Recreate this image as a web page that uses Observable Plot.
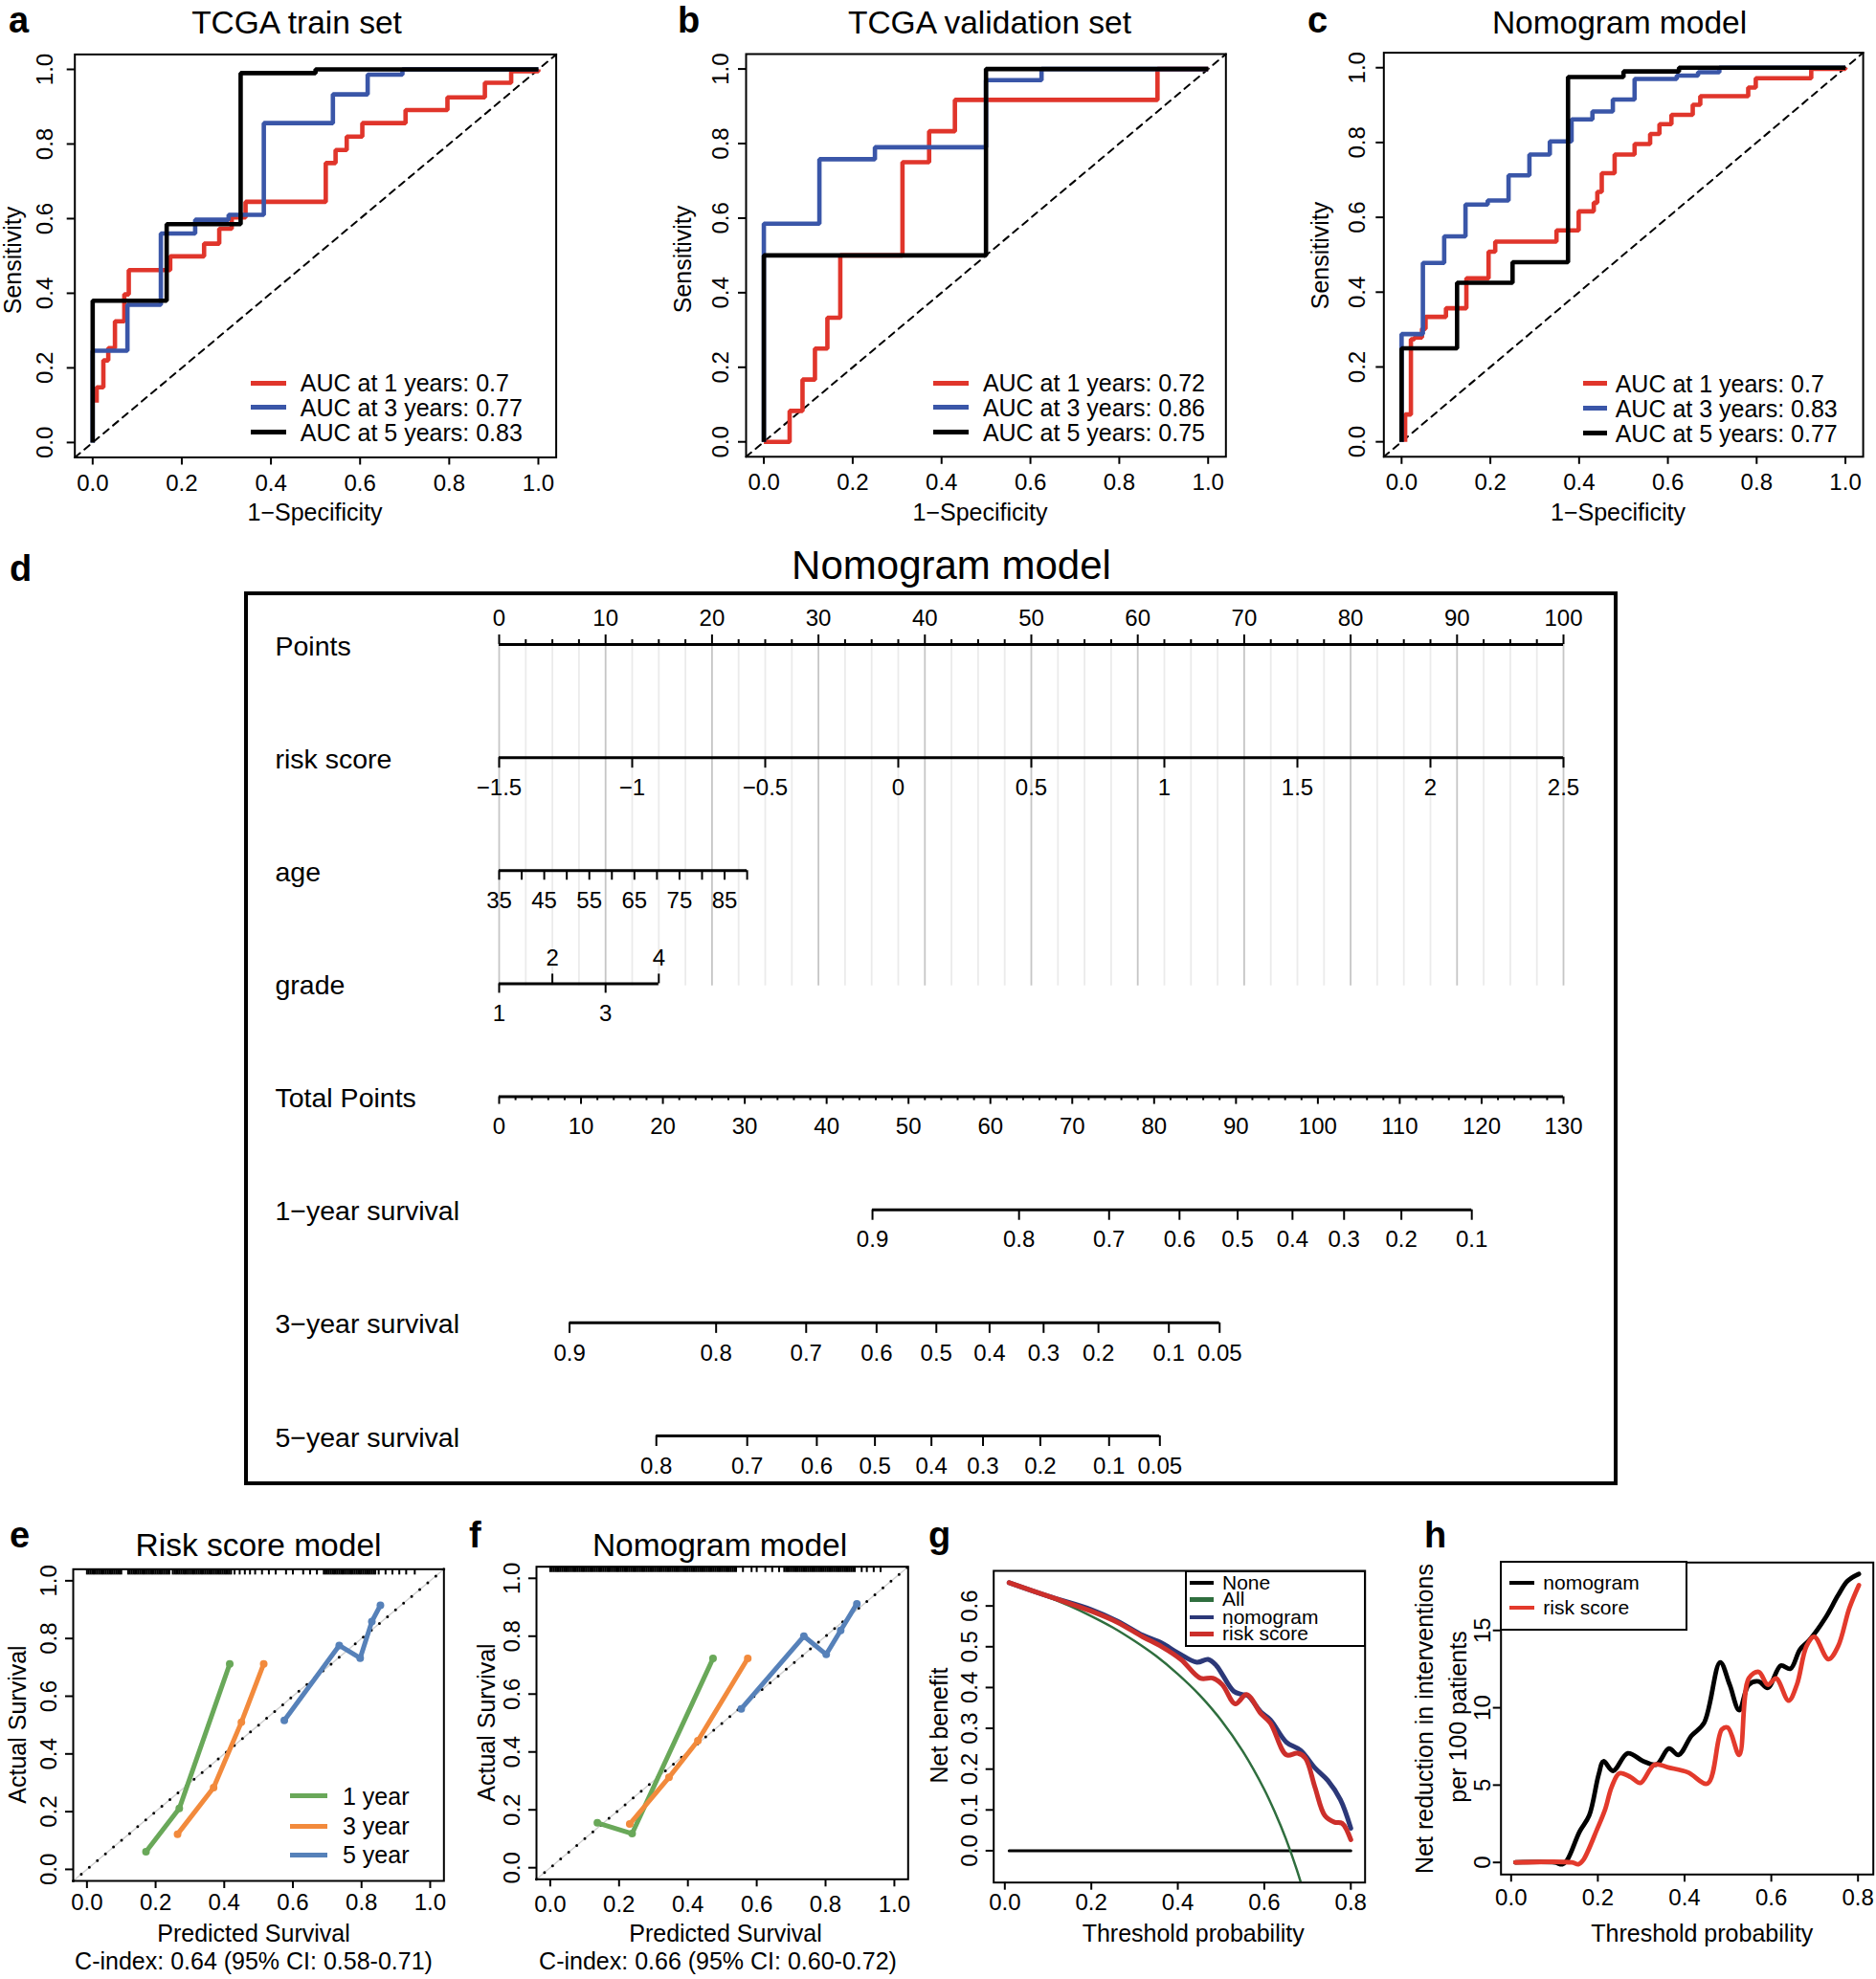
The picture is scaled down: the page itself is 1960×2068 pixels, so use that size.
<!DOCTYPE html>
<html><head><meta charset="utf-8">
<script src="https://cdn.jsdelivr.net/npm/d3@7"></script>
<script src="https://cdn.jsdelivr.net/npm/@observablehq/plot@0.6"></script>
<style>
body{margin:0;background:#fff;}
#root{position:relative;width:1960px;height:2068px;overflow:hidden;font-family:"Liberation Sans",Arial,Helvetica,sans-serif;color:#000;background:#fff;}
.abs{position:absolute;white-space:nowrap;line-height:1;}
.panel{position:absolute;}
</style></head><body><div id="root"></div>
<script>
// ================= DATA =================
const rocTicks = [0, 0.2, 0.4, 0.6, 0.8, 1];
// a: TCGA train set
const aFpr1 = [0.009,0.009,0.024,0.035,0.05,0.071,0.081,0.174,0.25,0.284,0.312,0.343,0.523,0.545,0.57,0.605,0.702,0.796,0.88,0.939,1];
const aTpr1 = [0.107,0.148,0.22,0.253,0.325,0.397,0.462,0.499,0.533,0.573,0.603,0.645,0.749,0.784,0.82,0.856,0.891,0.925,0.964,0.995,1];
const aFpr3 = [0,0,0.078,0.153,0.23,0.305,0.384,0.539,0.617,0.695,1];
const aTpr3 = [0,0.246,0.369,0.56,0.597,0.61,0.856,0.933,0.986,1,1];
const aFpr5 = [0,0,0.166,0.332,0.5,1];
const aTpr5 = [0,0.38,0.585,0.99,1,1];
const aAuc = ["AUC at 1 years: 0.7","AUC at 3 years: 0.77","AUC at 5 years: 0.83"];
// b: TCGA validation set
const bFpr1 = [0,0.058,0.087,0.115,0.143,0.172,0.312,0.372,0.43,0.886,1];
const bTpr1 = [0,0.083,0.167,0.25,0.333,0.5,0.75,0.833,0.917,1,1];
const bFpr3 = [0,0,0.125,0.25,0.5,0.625,1];
const bTpr3 = [0,0.585,0.758,0.79,0.97,1,1];
const bFpr5 = [0,0,0.5,1];
const bTpr5 = [0,0.5,1,1];
const bAuc = ["AUC at 1 years: 0.72","AUC at 3 years: 0.86","AUC at 5 years: 0.75"];
// c: Nomogram model ROC
const cFpr1 = [0.008,0.008,0.021,0.029,0.046,0.054,0.1,0.146,0.196,0.211,0.349,0.399,0.433,0.441,0.451,0.48,0.525,0.56,0.581,0.608,0.656,0.673,0.781,0.798,0.923,1];
const cTpr1 = [0,0.073,0.274,0.279,0.302,0.334,0.357,0.437,0.508,0.535,0.565,0.616,0.639,0.668,0.718,0.768,0.796,0.823,0.849,0.874,0.901,0.924,0.947,0.972,0.997,1];
const cFpr3 = [0,0,0.048,0.096,0.144,0.194,0.241,0.288,0.334,0.383,0.43,0.476,0.525,0.62,0.668,0.716,1];
const cTpr3 = [0,0.288,0.478,0.549,0.634,0.645,0.712,0.768,0.803,0.862,0.883,0.915,0.97,0.979,0.988,1,1];
const cFpr5 = [0,0,0.125,0.25,0.375,0.5,0.625,1];
const cTpr5 = [0,0.25,0.425,0.48,0.975,0.99,1,1];
const cAuc = ["AUC at 1 years: 0.7","AUC at 3 years: 0.83","AUC at 5 years: 0.77"];

// d: nomogram
const rowNames = ["Points","risk score","age","grade","Total Points","1\u2212year survival","3\u2212year survival","5\u2212year survival"];
const pointsTicks = [0,10,20,30,40,50,60,70,80,90,100];
const riskTicks = [-1.5,-1,-0.5,0,0.5,1,1.5,2,2.5];
const riskLabels = ["\u22121.5","\u22121","\u22120.5","0","0.5","1","1.5","2","2.5"];
const riskRange = [-1.5, 2.5];
const riskPoints = [0, 100];
const ageTicks = [35,40,45,50,55,60,65,70,75,80,85,90];
const ageLabels = [35,45,55,65,75,85];
const ageRange = [35, 90];
const agePoints = [0, 23.3];
const gradeValues = [1,2,3,4];
const gradePoints = [0,5,10,15];
const totalTicks = [0,10,20,30,40,50,60,70,80,90,100,110,120,130];
const totalMax = 130;
const surv1Labels = ["0.9","0.8","0.7","0.6","0.5","0.4","0.3","0.2","0.1"];
const surv1Total = [45.6,63.5,74.5,83.1,90.2,96.9,103.2,110.2,118.8];
const surv3Labels = ["0.9","0.8","0.7","0.6","0.5","0.4","0.3","0.2","0.1","0.05"];
const surv3Total = [8.6,26.5,37.5,46.1,53.4,59.9,66.5,73.2,81.8,88.0];
const surv5Labels = ["0.8","0.7","0.6","0.5","0.4","0.3","0.2","0.1","0.05"];
const surv5Total = [19.2,30.3,38.8,45.9,52.8,59.1,66.1,74.5,80.7];

// e/f: calibration
const calTicks = [0,0.2,0.4,0.6,0.8,1];
const calLabels = ["1 year","3 year","5 year"];
const eX1 = [0.172,0.269,0.416], eY1 = [0.061,0.211,0.712];
const eX3 = [0.264,0.369,0.45,0.515], eY3 = [0.122,0.283,0.51,0.712];
const eX5 = [0.575,0.735,0.796,0.83,0.855], eY5 = [0.516,0.776,0.732,0.859,0.915];
const fX1 = [0.137,0.238,0.473], fY1 = [0.155,0.118,0.723];
const fX3 = [0.231,0.345,0.429,0.574], fY3 = [0.151,0.312,0.439,0.723];
const fX5 = [0.555,0.737,0.802,0.844,0.891], fY5 = [0.549,0.8,0.737,0.82,0.912];
const rugE = [0,0.005,0.01,0.015,0.02,0.025,0.03,0.035,0.04,0.045,0.05,0.055,0.06,0.065,0.07,0.075,0.08,0.085,0.09,0.095,0.1,0.12,0.125,0.13,0.135,0.14,0.145,0.15,0.155,0.16,0.165,0.17,0.175,0.18,0.185,0.19,0.195,0.2,0.205,0.21,0.215,0.22,0.225,0.23,0.235,0.24,0.25,0.255,0.26,0.265,0.27,0.275,0.28,0.285,0.29,0.295,0.3,0.305,0.31,0.315,0.32,0.325,0.33,0.335,0.34,0.345,0.35,0.355,0.36,0.365,0.37,0.375,0.38,0.385,0.39,0.395,0.4,0.405,0.41,0.415,0.42,0.43,0.445,0.46,0.475,0.49,0.51,0.53,0.55,0.58,0.6,0.63,0.65,0.67,0.69,0.695,0.7,0.705,0.71,0.715,0.72,0.725,0.73,0.735,0.74,0.745,0.75,0.755,0.76,0.765,0.77,0.775,0.78,0.785,0.79,0.795,0.8,0.805,0.81,0.815,0.82,0.825,0.83,0.835,0.84,0.85,0.87,0.89,0.91,0.93,0.955];
const rugF = [0,0.005,0.01,0.015,0.02,0.025,0.03,0.035,0.04,0.045,0.05,0.055,0.06,0.065,0.07,0.075,0.08,0.085,0.09,0.095,0.1,0.105,0.11,0.115,0.12,0.125,0.13,0.135,0.14,0.145,0.15,0.155,0.16,0.165,0.17,0.175,0.18,0.185,0.19,0.195,0.2,0.205,0.21,0.215,0.22,0.225,0.23,0.235,0.24,0.245,0.25,0.255,0.26,0.265,0.27,0.275,0.28,0.285,0.29,0.295,0.3,0.305,0.31,0.315,0.32,0.325,0.33,0.335,0.34,0.345,0.35,0.355,0.36,0.365,0.37,0.375,0.38,0.385,0.39,0.395,0.4,0.405,0.41,0.415,0.42,0.425,0.43,0.435,0.44,0.445,0.45,0.455,0.46,0.465,0.47,0.475,0.48,0.485,0.49,0.495,0.5,0.505,0.51,0.515,0.52,0.525,0.53,0.535,0.54,0.56,0.585,0.6,0.625,0.645,0.665,0.68,0.685,0.69,0.695,0.7,0.705,0.71,0.715,0.72,0.725,0.73,0.735,0.74,0.745,0.75,0.755,0.76,0.765,0.77,0.775,0.78,0.785,0.79,0.795,0.8,0.805,0.81,0.815,0.82,0.825,0.83,0.835,0.84,0.845,0.85,0.855,0.86,0.865,0.87,0.875,0.88,0.885,0.905,0.92,0.94,0.96];

// g: decision curve
const gTicksX = [0,0.2,0.4,0.6,0.8];
const gTicksY = [0,0.1,0.2,0.3,0.4,0.5,0.6];
const gLabels = ["None","All","nomogram","risk score"];
const gNoneX = [0.01,0.8], gNoneY = [0,0];
const gAllX = [0.01,0.05,0.1,0.15,0.2,0.25,0.3,0.35,0.4,0.45,0.5,0.55,0.6,0.625,0.65,0.675,0.7];
const gAllY = [0.657,0.642,0.622,0.6,0.575,0.547,0.514,0.477,0.433,0.382,0.32,0.244,0.15,0.093,0.029,-0.046,-0.133];
const gNomX = [0.01,0.1,0.2,0.26,0.319,0.363,0.4,0.444,0.47,0.489,0.529,0.548,0.562,0.592,0.614,0.651,0.684,0.717,0.747,0.776,0.8];
const gNomY = [0.657,0.624,0.591,0.563,0.528,0.509,0.485,0.462,0.469,0.454,0.391,0.383,0.38,0.34,0.321,0.266,0.246,0.203,0.172,0.125,0.055];
const gRiskX = [0.01,0.1,0.2,0.26,0.319,0.363,0.407,0.452,0.481,0.503,0.533,0.559,0.592,0.614,0.651,0.677,0.695,0.717,0.74,0.762,0.78,0.8];
const gRiskY = [0.657,0.624,0.587,0.56,0.524,0.5,0.469,0.423,0.423,0.407,0.36,0.383,0.336,0.313,0.235,0.239,0.227,0.156,0.086,0.07,0.067,0.027];

// h: net reduction in interventions
const hTicksX = [0,0.2,0.4,0.6,0.8];
const hTicksY = [0,5,10,15];
const hLabels = ["nomogram","risk score"];
const hNomX = [0.01,0.1,0.118,0.129,0.158,0.18,0.202,0.213,0.235,0.269,0.305,0.335,0.364,0.386,0.416,0.445,0.482,0.504,0.526,0.548,0.571,0.592,0.622,0.644,0.666,0.688,0.725,0.754,0.776,0.802];
const hNomY = [0,0,-0.12,0.14,2.0,3.03,5.7,6.54,5.92,7.06,6.54,6.33,7.37,6.95,8.19,9.02,12.94,11.49,9.84,11.49,11.7,11.29,12.73,12.52,13.76,14.38,15.82,17.27,18.2,18.65];
const hRiskX = [0.01,0.14,0.155,0.166,0.199,0.217,0.232,0.25,0.276,0.298,0.331,0.364,0.408,0.453,0.486,0.5,0.526,0.548,0.571,0.592,0.611,0.64,0.659,0.681,0.699,0.732,0.754,0.78,0.802];
const hRiskY = [0,0,-0.12,0.14,2.2,3.45,4.89,5.76,5.51,5.14,6.33,6.13,5.82,5.1,8.6,8.71,6.95,11.9,12.32,11.49,11.9,10.46,11.49,13.97,14.59,13.14,13.97,16.44,17.93];

// ================= STYLE =================
const FONT = '"Liberation Sans", Arial, Helvetica, sans-serif';
const RED = "#E0352B", BLUE = "#3A56A8", BLACK = "#000";
const CGREEN = "#69A859", CORANGE = "#F28A3C", CBLUE = "#5681B9";
const GGREEN = "#2F6E3E", GNAVY = "#2C3878", GRED = "#CC2F2B", HRED = "#E33A2C";
const fmt1 = d3.format(".1f");
const root = document.getElementById("root");
const zipXY = (xs, ys) => xs.map((x, i) => ({x, y: ys[i]}));

function mount(svg, left, top) {
  const w = document.createElement("div");
  w.className = "panel"; w.style.left = left + "px"; w.style.top = top + "px";
  w.appendChild(svg); root.appendChild(w);
}
function hText(str, x, base, size, anchor = "middle", weight = 400) {
  const d = document.createElement("div");
  d.className = "abs"; d.textContent = str;
  d.style.fontSize = size + "px"; d.style.fontWeight = weight;
  d.style.left = x + "px"; d.style.top = (base - 0.8465 * size) + "px";
  d.style.transform = anchor === "middle" ? "translateX(-50%)" : "none";
  root.appendChild(d);
}
function vText(str, cx, cy, size) {
  const d = document.createElement("div");
  d.className = "abs"; d.textContent = str; d.style.fontSize = size + "px";
  d.style.left = cx + "px"; d.style.top = cy + "px";
  d.style.transform = "translate(-50%,-50%) rotate(-90deg)";
  root.appendChild(d);
}
function legend(labels, colors, x0, x1, xt, ys, size, lw) {
  const LH = 0.8;
  labels.forEach((lab, i) => {
    const l = document.createElement("div");
    l.className = "abs";
    Object.assign(l.style, {left: x0 + "px", top: (ys[i] - lw / 2) + "px", width: (x1 - x0) + "px", height: lw + "px", background: colors[i]});
    root.appendChild(l);
    const t = document.createElement("div");
    t.className = "abs"; t.textContent = lab; t.style.fontSize = size + "px";
    t.style.lineHeight = LH;
    t.style.left = xt + "px"; t.style.top = (ys[i] - LH * size / 2) + "px";
    root.appendChild(t);
  });
}
function box(x0, y0, x1, y1, bw, bg) {
  const b = document.createElement("div");
  b.className = "abs";
  Object.assign(b.style, {left: x0 + "px", top: y0 + "px", width: (x1 - x0) + "px", height: (y1 - y0) + "px", border: bw + "px solid #000", boxSizing: "border-box", background: bg || "transparent"});
  root.appendChild(b);
}

// ================= ROC PANELS =================
const rocDomain = [-0.04, 1.04];
function rocPlot({w, h, ml, mr, mt, mb, series, padX, padY}) {
  return Plot.plot({
    width: w, height: h, marginLeft: ml, marginRight: mr, marginTop: mt, marginBottom: mb,
    x: {domain: rocDomain}, y: {domain: rocDomain},
    style: {fontFamily: FONT, fontSize: "24px", background: "transparent", color: "black"},
    marks: [
      Plot.line(rocDomain.map(v => ({x: v, y: v})), {x: "x", y: "y", strokeDasharray: "7,6", strokeWidth: 2}),
      ...series.map(s => Plot.line(zipXY(s.fpr, s.tpr), {x: "x", y: "y", curve: "step-after", stroke: s.color, strokeWidth: 4.6, strokeLinejoin: "miter", strokeLinecap: "butt"})),
      Plot.frame({strokeWidth: 2}),
      Plot.axisX({ticks: rocTicks, tickSize: 8, tickPadding: padX, tickFormat: fmt1, label: null, strokeWidth: 2}),
      Plot.axisY({ticks: rocTicks, tickSize: 8, tickPadding: padY, tickRotate: -90, tickFormat: fmt1, label: null, strokeWidth: 2})
    ]
  });
}
mount(rocPlot({w: 600, h: 560, ml: 77.7, mr: 19.4, mt: 56.4, mb: 82.5, padX: 9.5, padY: 15,
  series: [{fpr: aFpr1, tpr: aTpr1, color: RED}, {fpr: aFpr3, tpr: aTpr3, color: BLUE}, {fpr: aFpr5, tpr: aTpr5, color: BLACK}]}), 0, 0);
mount(rocPlot({w: 620, h: 560, ml: 89, mr: 29.7, mt: 56, mb: 83.2, padX: 10, padY: 10.5,
  series: [{fpr: bFpr1, tpr: bTpr1, color: RED}, {fpr: bFpr3, tpr: bTpr3, color: BLUE}, {fpr: bFpr5, tpr: bTpr5, color: BLACK}]}), 690, 0);
mount(rocPlot({w: 610, h: 560, ml: 95.3, mr: 13.9, mt: 54.6, mb: 83.2, padX: 10, padY: 12,
  series: [{fpr: cFpr1, tpr: cTpr1, color: RED}, {fpr: cFpr3, tpr: cTpr3, color: BLUE}, {fpr: cFpr5, tpr: cTpr5, color: BLACK}]}), 1350, 0);

hText("a", 9, 34, 38, "start", 700);
hText("b", 708, 34, 38, "start", 700);
hText("c", 1366, 34, 38, "start", 700);
hText("TCGA train set", 310, 35.7, 33.5);
hText("TCGA validation set", 1034, 35.7, 33.5);
hText("Nomogram model", 1692, 35.7, 33.5);
vText("Sensitivity", 13, 272, 25);
vText("Sensitivity", 713, 271, 25);
vText("Sensitivity", 1378.6, 267, 25);
hText("1\u2212Specificity", 329, 544.6, 25);
hText("1\u2212Specificity", 1024, 544.6, 25);
hText("1\u2212Specificity", 1690.5, 544.6, 25);
legend(aAuc, [RED, BLUE, BLACK], 262, 298.5, 313.8, [400, 425.7, 451.8], 25, 5);
legend(bAuc, [RED, BLUE, BLACK], 974.7, 1012.3, 1026.9, [400, 425.7, 451.8], 25, 5);
legend(cAuc, [RED, BLUE, BLACK], 1653.5, 1678.8, 1687.7, [400.7, 426.8, 452.9], 25, 5);

// ================= NOMOGRAM =================
(function () {
  const W = 1960, H = 1000, mt = 113, mb = 60, ml = 521, mr = 327;
  const rowPx = (H - mt - mb) / (rowNames.length - 1);
  const riskToPts = d3.scaleLinear(riskRange, riskPoints);
  const ageToPts = d3.scaleLinear(ageRange, agePoints);
  const totToPts = d3.scaleLinear([0, totalMax], [0, 100]);
  const ticks = [], above = [], below = [], lines = [];
  const addTick = (row, x, len, dir) => ticks.push({x, row, y2: row + dir * len / rowPx});
  // row 0: Points
  lines.push({row: 0, x1: 0, x2: 100});
  const pointsMinor = d3.range(0, 100.01, 2.5).filter(v => v % 10 !== 0);
  pointsTicks.forEach(v => { addTick(0, v, 10, -1); above.push({row: 0, x: v, label: String(v)}); });
  pointsMinor.forEach(v => addTick(0, v, 5, -1));
  // row 1: risk score
  lines.push({row: 1, x1: riskToPts(riskRange[0]), x2: riskToPts(riskRange[1])});
  riskTicks.forEach((v, i) => { addTick(1, riskToPts(v), 11, 1); below.push({row: 1, x: riskToPts(v), label: riskLabels[i]}); });
  // row 2: age
  lines.push({row: 2, x1: ageToPts(ageRange[0]), x2: ageToPts(ageRange[1])});
  ageTicks.forEach(v => addTick(2, ageToPts(v), 10, 1));
  ageLabels.forEach(v => below.push({row: 2, x: ageToPts(v), label: String(v)}));
  // row 3: grade
  lines.push({row: 3, x1: gradePoints[0], x2: gradePoints[gradePoints.length - 1]});
  gradeValues.forEach((g, i) => {
    const up = g % 2 === 0;
    addTick(3, gradePoints[i], 10, up ? -1 : 1);
    (up ? above : below).push({row: 3, x: gradePoints[i], label: String(g)});
  });
  // row 4: total points
  lines.push({row: 4, x1: 0, x2: 100});
  totalTicks.forEach(v => { addTick(4, totToPts(v), 8, 1); below.push({row: 4, x: totToPts(v), label: String(v)}); });
  d3.range(0, totalMax + 0.01, 2).filter(v => v % 10 !== 0).forEach(v => addTick(4, totToPts(v), 4, 1));
  // survival rows
  [[surv1Labels, surv1Total], [surv3Labels, surv3Total], [surv5Labels, surv5Total]].forEach(([labs, tots], k) => {
    const row = 5 + k;
    lines.push({row, x1: totToPts(d3.min(tots)), x2: totToPts(d3.max(tots))});
    tots.forEach((t, i) => { addTick(row, totToPts(t), 11, 1); below.push({row, x: totToPts(t), label: labs[i]}); });
  });
  const gridMinor = pointsMinor;
  const svg = Plot.plot({
    width: W, height: H, marginTop: mt, marginBottom: mb, marginLeft: ml, marginRight: mr,
    x: {domain: [0, 100], axis: null}, y: {domain: [0, rowNames.length - 1], reverse: true, axis: null},
    style: {fontFamily: FONT, fontSize: "24px", background: "transparent", color: "black"},
    marks: [
      Plot.ruleX(gridMinor, {x: d => d, y1: 0, y2: 3.02, stroke: "#ebebeb", strokeWidth: 1.8}),
      Plot.ruleX(pointsTicks, {x: d => d, y1: 0, y2: 3.02, stroke: "#c6c6c6", strokeWidth: 1.8}),
      Plot.ruleY(lines, {y: "row", x1: "x1", x2: "x2", strokeWidth: 3}),
      Plot.ruleX(ticks, {x: "x", y1: "row", y2: "y2", strokeWidth: 2}),
      Plot.text(above, {x: "x", y: "row", text: "label", dy: -27, fontSize: 24}),
      Plot.text(below, {x: "x", y: "row", text: "label", dy: 31.5, fontSize: 24}),
      Plot.text(rowNames, {y: (d, i) => i, text: d => d, frameAnchor: "left", dx: -234, dy: 2, textAnchor: "start", fontSize: 28.5})
    ]
  });
  mount(svg, 0, 560);
})();
box(255, 618, 1690, 1552, 4);
hText("d", 10, 607, 38, "start", 700);
hText("Nomogram model", 994, 606, 42);

// ================= CALIBRATION =================
const calDomain = [-0.04, 1.04];
function calPlot({w, h, ml, mr, mt, mb, series, rug, padX, padY}) {
  const diag = calDomain.map(v => ({x: v, y: v}));
  return Plot.plot({
    width: w, height: h, marginLeft: ml, marginRight: mr, marginTop: mt, marginBottom: mb,
    x: {domain: calDomain}, y: {domain: calDomain},
    style: {fontFamily: FONT, fontSize: "24px", background: "transparent", color: "black"},
    marks: [
      Plot.line(diag, {x: "x", y: "y", stroke: "#d2d2d2", strokeWidth: 1.5}),
      Plot.line(diag, {x: "x", y: "y", stroke: "black", strokeWidth: 3, strokeDasharray: "0,11", strokeLinecap: "round"}),
      Plot.ruleX(rug, {x: d => d, y1: calDomain[1], y2: calDomain[1] - 0.02, strokeWidth: 2}),
      ...series.flatMap(s => [
        Plot.line(zipXY(s.x, s.y), {x: "x", y: "y", stroke: s.color, strokeWidth: 5}),
        Plot.dot(zipXY(s.x, s.y), {x: "x", y: "y", fill: s.color, r: 4})
      ]),
      Plot.frame({strokeWidth: 2}),
      Plot.axisX({ticks: calTicks, tickSize: 8, tickPadding: padX, tickFormat: fmt1, label: null, strokeWidth: 2}),
      Plot.axisY({ticks: calTicks, tickSize: 8, tickPadding: padY, tickRotate: -90, tickFormat: fmt1, label: null, strokeWidth: 2})
    ]
  });
}
mount(calPlot({w: 480, h: 488, ml: 76, mr: 16.7, mt: 59.3, mb: 103, padX: 5.7, padY: 9.4, rug: rugE,
  series: [{x: eX1, y: eY1, color: CGREEN}, {x: eX3, y: eY3, color: CORANGE}, {x: eX5, y: eY5, color: CBLUE}]}), 0, 1580);
mount(calPlot({w: 480, h: 488, ml: 80, mr: 11.7, mt: 56.7, mb: 104.7, padX: 9, padY: 9.4, rug: rugF,
  series: [{x: fX1, y: fY1, color: CGREEN}, {x: fX3, y: fY3, color: CORANGE}, {x: fX5, y: fY5, color: CBLUE}]}), 480, 1580);
hText("e", 10, 1617, 38, "start", 700);
hText("f", 490, 1617, 38, "start", 700);
hText("Risk score model", 270, 1626, 33.5);
hText("Nomogram model", 752, 1626, 33.5);
vText("Actual Survival", 17.5, 1802, 25);
vText("Actual Survival", 507.5, 1800, 25);
hText("Predicted Survival", 265, 2029, 25);
hText("Predicted Survival", 758, 2029, 25);
hText("C-index: 0.64 (95% CI: 0.58-0.71)", 265, 2058, 25);
hText("C-index: 0.66 (95% CI: 0.60-0.72)", 750, 2058, 25);
legend(calLabels, [CGREEN, CORANGE, CBLUE], 303, 342, 358, [1876.7, 1908.3, 1938.3], 25, 5);

// ================= DECISION CURVE (g) =================
mount(Plot.plot({
  width: 500, height: 488, marginLeft: 77.7, marginRight: 34.3, marginTop: 61, marginBottom: 101.3,
  x: {domain: [-0.0257, 0.833]}, y: {domain: [-0.078, 0.686]},
  style: {fontFamily: FONT, fontSize: "24px", background: "transparent", color: "black"},
  marks: [
    Plot.line(zipXY(gNoneX, gNoneY), {x: "x", y: "y", stroke: "black", strokeWidth: 3}),
    Plot.line(zipXY(gAllX, gAllY), {x: "x", y: "y", stroke: GGREEN, strokeWidth: 2.5, curve: "catmull-rom", clip: true}),
    Plot.line(zipXY(gNomX, gNomY), {x: "x", y: "y", stroke: GNAVY, strokeWidth: 5, curve: "catmull-rom"}),
    Plot.line(zipXY(gRiskX, gRiskY), {x: "x", y: "y", stroke: GRED, strokeWidth: 5, curve: "catmull-rom"}),
    Plot.frame({strokeWidth: 2}),
    Plot.axisX({ticks: gTicksX, tickSize: 8, tickPadding: 4.2, tickFormat: fmt1, label: null, strokeWidth: 2}),
    Plot.axisY({ticks: gTicksY, tickSize: 8, tickPadding: 8.8, tickRotate: -90, tickFormat: fmt1, label: null, strokeWidth: 2})
  ]
}), 960, 1580);
box(1237.7, 1640.5, 1426.7, 1721, 2, "#fff");
legend(gLabels, ["#000", GGREEN, GNAVY, GRED], 1242.7, 1268.3, 1277, [1654, 1671.7, 1690, 1707.7], 21, 4.5);
hText("g", 970, 1617, 38, "start", 700);
vText("Net benefit", 980.8, 1803, 25);
hText("Threshold probability", 1246.7, 2029, 25);

// ================= NET REDUCTION (h) =================
mount(Plot.plot({
  width: 510, height: 488, marginLeft: 117.7, marginRight: 3.3, marginTop: 52.3, marginBottom: 109.7,
  x: {domain: [-0.0234, 0.8353]}, y: {domain: [-0.78, 19.39]},
  style: {fontFamily: FONT, fontSize: "24px", background: "transparent", color: "black"},
  marks: [
    Plot.line(zipXY(hNomX, hNomY), {x: "x", y: "y", stroke: "black", strokeWidth: 4.8, curve: "catmull-rom"}),
    Plot.line(zipXY(hRiskX, hRiskY), {x: "x", y: "y", stroke: HRED, strokeWidth: 4.8, curve: "catmull-rom"}),
    Plot.frame({strokeWidth: 2}),
    Plot.axisX({ticks: hTicksX, tickSize: 8, tickPadding: 7.6, tickFormat: fmt1, label: null, strokeWidth: 2}),
    Plot.axisY({ticks: hTicksY, tickSize: 8, tickPadding: 3.1, tickRotate: -90, tickFormat: d => String(d), label: null, strokeWidth: 2})
  ]
}), 1450, 1580);
box(1566.7, 1631.3, 1762.7, 1703.7, 2, "#fff");
legend(hLabels, ["#000", HRED], 1576.7, 1603.3, 1612.3, [1654, 1680], 21, 4.5);
hText("h", 1488, 1617, 38, "start", 700);
vText("Net reduction in interventions", 1487.5, 1796, 25);
vText("per 100 patients", 1522.5, 1794, 25);
hText("Threshold probability", 1778.3, 2029, 25);
</script></body></html>
